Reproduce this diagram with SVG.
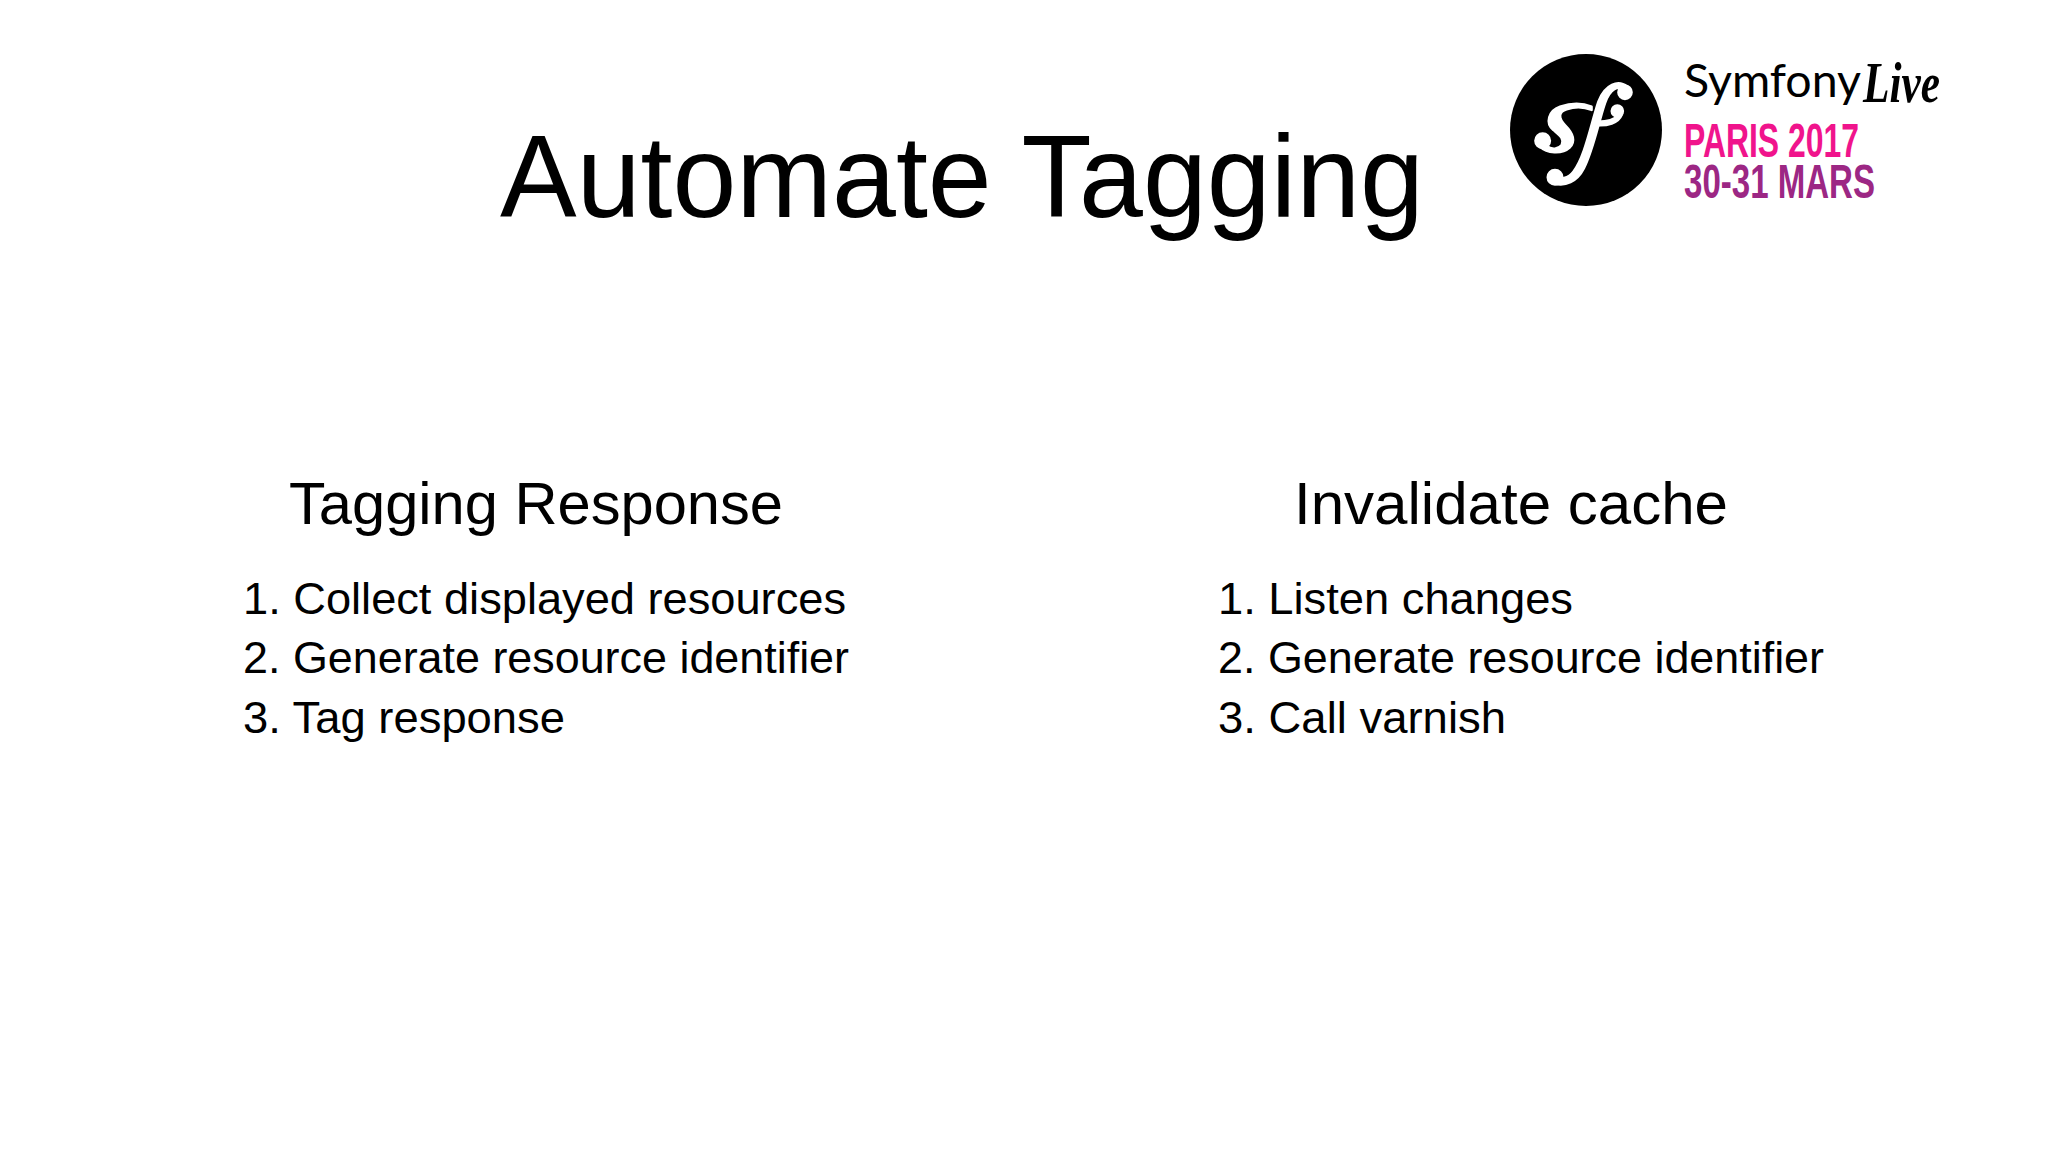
<svg xmlns="http://www.w3.org/2000/svg" width="2048" height="1152" viewBox="0 0 2048 1152">
<style>
text{font-family:"Liberation Sans",Arial,sans-serif;fill:#000}
.t{font-size:116px}.h{font-size:60px}.b{font-size:45px}
.sym{font-size:46px;font-family:Lato,"Open Sans",sans-serif}
.live{font-size:56px;font-family:"Liberation Serif",serif;font-style:italic;font-weight:bold}
.cond{font-size:48px;font-weight:bold;font-family:"Liberation Sans Narrow","Liberation Sans",sans-serif}
.sf{fill:#fff;stroke:#fff;stroke-width:7;stroke-linejoin:round}
</style>
<rect width="2048" height="1152" fill="#fff"/>
<text class="t" x="500" y="217" textLength="924" lengthAdjust="spacingAndGlyphs">Automate Tagging</text>
<g id="logo">
<circle cx="1586" cy="130" r="76" fill="#000"/>
<g class="sf" transform="translate(1490 40) scale(.3333)">
<path d="M412 140C385 118 345 132 325 185C303 250 285 350 250 395C235 415 210 420 195 412L190 430C225 442 262 425 282 385C310 330 325 250 345 190C360 145 385 135 405 150Z"/>
<circle cx="405" cy="157" r="20"/><circle cx="195" cy="412" r="22"/>
<path d="M322 245C350 245 375 240 385 222L395 225C385 250 350 258 322 256Z"/>
<circle cx="382" cy="213" r="17"/>
<path d="M305 200C275 188 240 190 210 200C175 212 165 250 190 270C205 283 225 295 215 315C205 328 185 330 170 318L150 320C170 340 215 345 240 322C260 300 245 275 225 255C205 235 205 215 230 208C255 200 280 200 305 210Z"/>
<circle cx="158" cy="302" r="22"/>
</g>
<text class="sym" x="1684" y="97" textLength="177" lengthAdjust="spacingAndGlyphs">Symfony</text>
<text class="live" x="1863" y="102" textLength="77" lengthAdjust="spacingAndGlyphs">Live</text>
<text class="cond" x="1684" y="157" textLength="175" lengthAdjust="spacingAndGlyphs" style="fill:#f0148c">PARIS 2017</text>
<text class="cond" x="1684" y="198" textLength="191" lengthAdjust="spacingAndGlyphs" style="fill:#9c2784">30-31 MARS</text>
</g>
<g id="left">
<text class="h" x="289" y="524" textLength="494" lengthAdjust="spacingAndGlyphs">Tagging Response</text>
<text class="b" x="243" y="614" textLength="603" lengthAdjust="spacingAndGlyphs">1. Collect displayed resources</text>
<text class="b" x="243" y="673" textLength="606" lengthAdjust="spacingAndGlyphs">2. Generate resource identifier</text>
<text class="b" x="243" y="733" textLength="322" lengthAdjust="spacingAndGlyphs">3. Tag response</text>
</g>
<g id="right">
<text class="h" x="1294" y="524" textLength="434" lengthAdjust="spacingAndGlyphs">Invalidate cache</text>
<text class="b" x="1218" y="614" textLength="355" lengthAdjust="spacingAndGlyphs">1. Listen changes</text>
<text class="b" x="1218" y="673" textLength="606" lengthAdjust="spacingAndGlyphs">2. Generate resource identifier</text>
<text class="b" x="1218" y="733" textLength="288" lengthAdjust="spacingAndGlyphs">3. Call varnish</text>
</g>
</svg>
